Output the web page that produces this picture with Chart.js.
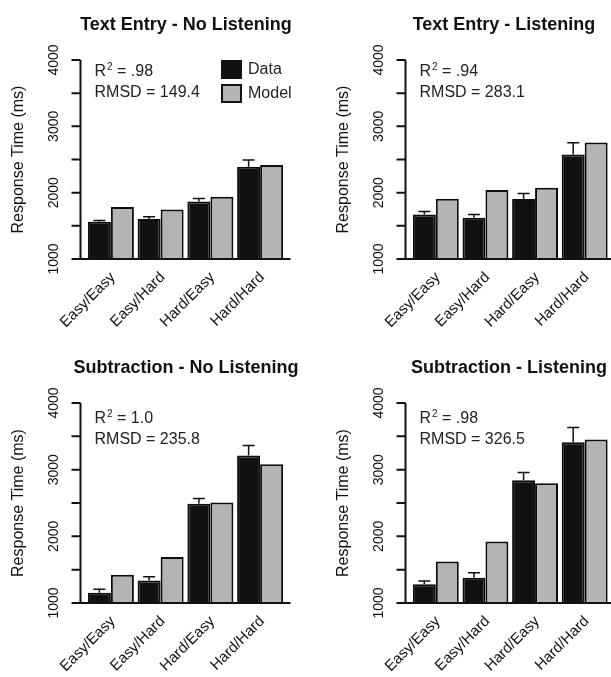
<!DOCTYPE html>
<html lang="en">
<head>
    <meta charset="UTF-8">
    <title>Response Time - Data vs Model</title>
    <script src="https://cdn.jsdelivr.net/npm/chart.js"></script>
    <style>
        body { margin: 0; background: #fff; }
        .painel { position: relative; width: 611px; height: 677px; background: #fff; }
        .painel canvas { position: absolute; }
    </style>
</head>
<body>
    <div class="painel">
        <canvas id="c1" width="305" height="340" style="left:0;top:0"></canvas>
        <canvas id="c2" width="306" height="340" style="left:305px;top:0"></canvas>
        <canvas id="c3" width="305" height="337" style="left:0;top:340px"></canvas>
        <canvas id="c4" width="306" height="337" style="left:305px;top:340px"></canvas>
    </div>
<script>
    // categorias e valores (ms)
    const categorias = ['Easy/Easy', 'Easy/Hard', 'Hard/Easy', 'Hard/Hard'];
    const ticksY = [1000, 1500, 2000, 2500, 3000, 3500, 4000];
    const rotulosY = [1000, 2000, 3000, 4000];

    const textoSemOuvirDados = [1562, 1602, 1868, 2391];
    const textoSemOuvirErro = [20, 35, 45, 100];
    const textoSemOuvirModelo = [1783, 1748, 1938, 2417];

    const textoOuvindoDados = [1672, 1622, 1903, 2576];
    const textoOuvindoErro = [45, 50, 85, 175];
    const textoOuvindoModelo = [1908, 2039, 2074, 2756];

    const subSemOuvirDados = [1155, 1339, 2488, 3212];
    const subSemOuvirErro = [50, 55, 80, 150];
    const subSemOuvirModelo = [1424, 1689, 2508, 3082];

    const subOuvindoDados = [1280, 1379, 2842, 3411];
    const subOuvindoErro = [50, 75, 115, 220];
    const subOuvindoModelo = [1624, 1924, 2797, 3451];

    const titulos = ['Text Entry - No Listening', 'Text Entry - Listening', 'Subtraction - No Listening', 'Subtraction - Listening'];
    const r2 = ['.98', '.94', '1.0', '.98'];
    const rmsd = ['149.4', '283.1', '235.8', '326.5'];

    const FONTE = '"Liberation Sans", Arial, Helvetica, sans-serif';
    const PRETO = '#111111';
    const CINZA = '#b2b5b2';

    // plugin que desenha eixos, textos, barras de erro e legenda
    const decoracao = {
        id: 'decoracao',
        afterDatasetsDraw(chart, args, op) {
            const ctx = chart.ctx;
            const ca = chart.chartArea;
            const y = chart.scales.y;
            const x = chart.scales.x;
            const ax = ca.left - 5.5;
            const base = y.getPixelForValue(1000);
            ctx.save();

            // barras de erro (so para os dados)
            const meta = chart.getDatasetMeta(0);
            ctx.strokeStyle = '#111';
            ctx.lineWidth = 1.5;
            meta.data.forEach((bar, i) => {
                const v = chart.data.datasets[0].data[i] + op.erro[i];
                const topo = y.getPixelForValue(v);
                ctx.beginPath();
                ctx.moveTo(bar.x, bar.y);
                ctx.lineTo(bar.x, topo);
                ctx.moveTo(bar.x - 6, topo);
                ctx.lineTo(bar.x + 6, topo);
                ctx.stroke();
            });

            // eixos
            ctx.lineWidth = 2;
            ctx.beginPath();
            ctx.moveTo(ax, y.getPixelForValue(4000));
            ctx.lineTo(ax, base);
            ctx.moveTo(ax, base);
            ctx.lineTo(Math.min(ca.right + 5.5, chart.width), base);
            ticksY.forEach(t => {
                const py = y.getPixelForValue(t);
                ctx.moveTo(ax - 9, py);
                ctx.lineTo(ax, py);
            });
            ctx.stroke();

            ctx.fillStyle = '#111';
            // rotulos do eixo y (verticais)
            ctx.font = '14px ' + FONTE;
            ctx.textAlign = 'center';
            ctx.textBaseline = 'alphabetic';
            rotulosY.forEach(t => {
                ctx.save();
                ctx.translate(ax - 23, y.getPixelForValue(t));
                ctx.rotate(-Math.PI / 2);
                ctx.fillText(String(t), 0, 0);
                ctx.restore();
            });

            // titulo do eixo y
            ctx.font = '16px ' + FONTE;
            ctx.save();
            ctx.translate(ax - 58, (ca.top + base) / 2);
            ctx.rotate(-Math.PI / 2);
            ctx.fillText('Response Time (ms)', 0, 0);
            ctx.restore();

            // rotulos do eixo x (45 graus)
            ctx.font = '15px ' + FONTE;
            ctx.textAlign = 'right';
            ctx.textBaseline = 'middle';
            categorias.forEach((c, i) => {
                ctx.save();
                ctx.translate(x.getPixelForValue(i) + 2, base + 16);
                ctx.rotate(-Math.PI / 4);
                ctx.fillText(c, 0, 0);
                ctx.restore();
            });

            // titulo do painel
            ctx.font = 'bold 18px ' + FONTE;
            ctx.textAlign = 'center';
            ctx.textBaseline = 'alphabetic';
            ctx.fillText(op.titulo, op.tituloX, ca.top - 30);

            // R2 e RMSD
            ctx.textAlign = 'left';
            ctx.fillStyle = '#222';
            ctx.font = '16px ' + FONTE;
            const sx = ax + 14;
            const sy = ca.top + op.statsY;
            ctx.fillText('R', sx, sy);
            let w = ctx.measureText('R').width;
            ctx.font = '10px ' + FONTE;
            ctx.fillText('2', sx + w + 1, sy - 6);
            w += ctx.measureText('2').width + 1;
            ctx.font = '16px ' + FONTE;
            ctx.fillText(' = ' + op.r2, sx + w, sy);
            ctx.fillText('RMSD = ' + op.rmsd, sx, sy + 21);

            // legenda
            if (op.legenda) {
                const lx = ca.right - 64;
                const itens = [['Data', PRETO], ['Model', CINZA]];
                itens.forEach((it, k) => {
                    const ly = ca.top + k * 24;
                    ctx.fillStyle = it[1];
                    ctx.fillRect(lx, ly, 21, 19);
                    ctx.strokeStyle = '#111';
                    ctx.lineWidth = 2;
                    ctx.strokeRect(lx + 1, ly + 1, 19, 17);
                    ctx.fillStyle = '#222';
                    ctx.font = '16px ' + FONTE;
                    ctx.textBaseline = 'middle';
                    ctx.fillText(it[0], lx + 27, ly + 10);
                    ctx.textBaseline = 'alphabetic';
                });
            }
            ctx.restore();
        }
    };

    function criarGrafico(id, dados, modelo, erro, i, padding, tituloX, statsY, legenda) {
        return new Chart(document.getElementById(id), {
            type: 'bar',
            data: {
                labels: categorias,
                datasets: [
                    {
                        label: 'Data',
                        data: dados,
                        backgroundColor: PRETO,
                        borderColor: '#0d0d0d',
                        borderWidth: 2,
                        borderSkipped: false
                    },
                    {
                        label: 'Model',
                        data: modelo,
                        backgroundColor: CINZA,
                        borderColor: '#0d0d0d',
                        borderWidth: 2,
                        borderSkipped: false
                    }
                ]
            },
            options: {
                responsive: false,
                animation: false,
                devicePixelRatio: 1,
                layout: { padding: padding },
                datasets: { bar: { barPercentage: 1.0, categoryPercentage: 0.925 } },
                scales: {
                    x: { display: false, offset: true },
                    y: { display: false, min: 1000, max: 4000 }
                },
                plugins: {
                    legend: { display: false },
                    tooltip: { enabled: false },
                    decoracao: {
                        erro: erro,
                        titulo: titulos[i],
                        tituloX: tituloX,
                        r2: r2[i],
                        rmsd: rmsd[i],
                        statsY: statsY,
                        legenda: legenda
                    }
                }
            },
            plugins: [decoracao]
        });
    }

    criarGrafico('c1', textoSemOuvirDados, textoSemOuvirModelo, textoSemOuvirErro, 0,
        { left: 86, right: 20, top: 60, bottom: 81 }, 186, 16, true);
    criarGrafico('c2', textoOuvindoDados, textoOuvindoModelo, textoOuvindoErro, 1,
        { left: 106, right: 1.5, top: 60, bottom: 81 }, 199, 16, false);
    criarGrafico('c3', subSemOuvirDados, subSemOuvirModelo, subSemOuvirErro, 2,
        { left: 86, right: 20, top: 63, bottom: 74 }, 186, 20, false);
    criarGrafico('c4', subOuvindoDados, subOuvindoModelo, subOuvindoErro, 3,
        { left: 106, right: 1.5, top: 63, bottom: 74 }, 204, 20, false);
</script>
</body>
</html>
